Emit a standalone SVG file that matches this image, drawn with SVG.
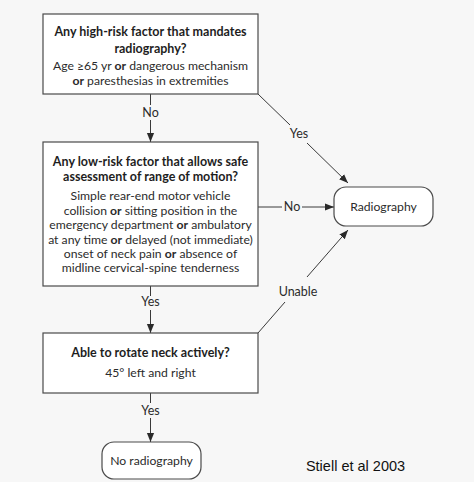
<svg xmlns="http://www.w3.org/2000/svg" width="474" height="482" viewBox="0 0 474 482">
<style>
text{font-family:Lato,"Open Sans",sans-serif;fill:#2b2b2b;text-anchor:middle}
.t{font-size:12.5px;font-weight:bold;fill:#1e1e1e}
.b{font-size:12.2px}
.lbl{font-size:12.5px}
.box{fill:#fff;stroke:#4a4a4a;stroke-width:1.2}
.ln{stroke:#3a3a3a;stroke-width:1;fill:none}
</style>
<defs>
<marker id="ah" viewBox="0 0 10 10" refX="10" refY="5" markerWidth="9" markerHeight="9" markerUnits="userSpaceOnUse" orient="auto">
<path d="M0,1 L10,5 L0,9 Z" fill="#2a2a2a"/>
</marker>
</defs>
<rect x="0" y="0" width="474" height="482" fill="#f7f7f7"/>
<g id="connectors">
<line class="ln" x1="150.5" y1="94" x2="150.5" y2="105"/>
<line class="ln" x1="150.5" y1="120" x2="150.5" y2="142" marker-end="url(#ah)"/>
<text class="lbl" x="150.5" y="117">No</text>
<line class="ln" x1="258" y1="94" x2="290" y2="125"/>
<line class="ln" x1="307" y1="143" x2="348" y2="183" marker-end="url(#ah)"/>
<text class="lbl" x="299" y="138">Yes</text>
<line class="ln" x1="258" y1="207" x2="282" y2="207"/>
<line class="ln" x1="302" y1="207" x2="334" y2="207" marker-end="url(#ah)"/>
<text class="lbl" x="292" y="211">No</text>
<line class="ln" x1="258" y1="333" x2="285" y2="302"/>
<line class="ln" x1="307" y1="277" x2="348" y2="230" marker-end="url(#ah)"/>
<text class="lbl" x="298" y="296">Unable</text>
<line class="ln" x1="150.5" y1="286" x2="150.5" y2="296"/>
<line class="ln" x1="150.5" y1="310" x2="150.5" y2="333" marker-end="url(#ah)"/>
<text class="lbl" x="150.5" y="306">Yes</text>
<line class="ln" x1="150.5" y1="393" x2="150.5" y2="403"/>
<line class="ln" x1="150.5" y1="418" x2="150.5" y2="442" marker-end="url(#ah)"/>
<text class="lbl" x="150.5" y="415">Yes</text>
</g>
<g id="highrisk">
<rect class="box" x="43" y="14" width="215" height="80"/>
<text class="t" x="150.5" y="36">Any high-risk factor that mandates</text>
<text class="t" x="150.5" y="53">radiography?</text>
<text class="b" x="150.5" y="70">Age ≥65 yr <tspan font-weight="bold">or</tspan> dangerous mechanism</text>
<text class="b" x="150.5" y="85"><tspan font-weight="bold">or</tspan> paresthesias in extremities</text>
</g>
<g id="lowrisk">
<rect class="box" x="43" y="142" width="215" height="144"/>
<text class="t" x="150.5" y="166">Any low-risk factor that allows safe</text>
<text class="t" x="150.5" y="181">assessment of range of motion?</text>
<text class="b" x="150.5" y="200">Simple rear-end motor vehicle</text>
<text class="b" x="150.5" y="214.5">collision <tspan font-weight="bold">or</tspan> sitting position in the</text>
<text class="b" x="150.5" y="229">emergency department <tspan font-weight="bold">or</tspan> ambulatory</text>
<text class="b" x="150.5" y="243.5">at any time <tspan font-weight="bold">or</tspan> delayed (not immediate)</text>
<text class="b" x="150.5" y="258">onset of neck pain <tspan font-weight="bold">or</tspan> absence of</text>
<text class="b" x="150.5" y="272">midline cervical-spine tenderness</text>
</g>
<g id="rotate">
<rect class="box" x="43" y="333" width="215" height="60"/>
<text class="t" x="150.5" y="357">Able to rotate neck actively?</text>
<text class="b" x="150.5" y="377">45° left and right</text>
</g>
<g id="radiography">
<rect class="box" x="334" y="187" width="99" height="39" rx="12"/>
<text class="b" x="383.5" y="211">Radiography</text>
</g>
<g id="noradiography">
<rect class="box" x="102" y="442" width="99" height="37" rx="12"/>
<text class="b" x="151.5" y="465">No radiography</text>
</g>
<text x="355.5" y="471" style="font-family:'Liberation Sans',Arial,sans-serif;font-size:14.5px;fill:#111">Stiell et al 2003</text>
</svg>
